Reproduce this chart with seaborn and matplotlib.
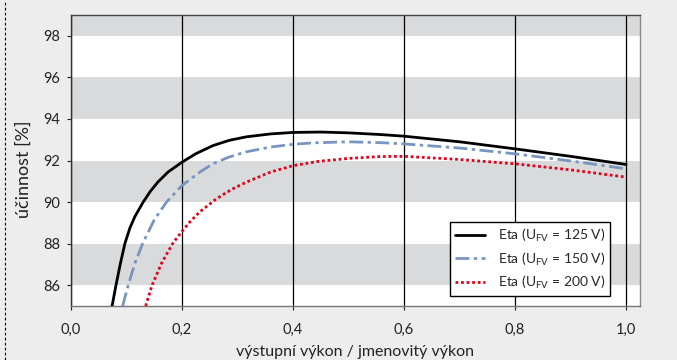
"""Efficiency curves of an inverter at three PV input voltages."""

import matplotlib

matplotlib.use("Agg")

import matplotlib.pyplot as plt
import pandas as pd
import seaborn as sns
from matplotlib.lines import Line2D

# curve for U_FV = 125 V
x_125 = [0.074, 0.081, 0.089, 0.097, 0.106, 0.115, 0.130, 0.143, 0.157, 0.175, 0.2,
         0.225, 0.256, 0.285, 0.316, 0.36, 0.4, 0.45, 0.5, 0.557, 0.6, 0.7, 0.8, 0.9, 1.0]
eta_125 = [85.0, 86.0, 87.05, 88.0, 88.75, 89.3, 90.0, 90.52, 90.98, 91.45, 91.92,
           92.33, 92.72, 92.97, 93.14, 93.28, 93.35, 93.37, 93.33, 93.25, 93.17, 92.9,
           92.56, 92.2, 91.81]

# curve for U_FV = 150 V
x_150 = [0.093, 0.103, 0.115, 0.129, 0.150, 0.172, 0.2, 0.232, 0.256, 0.285, 0.316,
         0.36, 0.4, 0.437, 0.5, 0.557, 0.6, 0.7, 0.8, 0.9, 1.0]
eta_150 = [85.0, 86.0, 87.05, 88.0, 89.15, 90.0, 90.8, 91.44, 91.85, 92.17, 92.42,
           92.65, 92.78, 92.85, 92.9, 92.86, 92.8, 92.6, 92.32, 91.98, 91.6]

# curve for U_FV = 200 V
x_200 = [0.1345, 0.146, 0.163, 0.183, 0.2, 0.215, 0.232, 0.262, 0.29, 0.316, 0.36, 0.4,
         0.446, 0.5, 0.557, 0.6, 0.7, 0.8, 0.9, 1.0]
eta_200 = [85.0, 86.0, 87.05, 88.0, 88.6, 89.07, 89.53, 90.16, 90.62, 90.96, 91.45,
           91.75, 91.96, 92.1, 92.19, 92.2, 92.05, 91.84, 91.55, 91.2]

series_labels = [
    r"Eta (U$_{\mathregular{FV}}$ = 125 V)",
    r"Eta (U$_{\mathregular{FV}}$ = 150 V)",
    r"Eta (U$_{\mathregular{FV}}$ = 200 V)",
]

x_ticks = [0.0, 0.2, 0.4, 0.6, 0.8, 1.0]
x_tick_labels = ["0,0", "0,2", "0,4", "0,6", "0,8", "1,0"]
y_ticks = [86, 88, 90, 92, 94, 96, 98]
band_starts = [86, 90, 94, 98]

sns.set_theme(style="white")
plt.rcParams["font.family"] = ["Lato", "DejaVu Sans"]
plt.rcParams["mathtext.fontset"] = "custom"
plt.rcParams["mathtext.rm"] = "Lato"

fig = plt.figure(figsize=(6.77, 3.6), dpi=100)
fig.patch.set_facecolor("#ECEDEC")
ax = fig.add_axes([0.1049, 0.15, 0.8404, 0.8083])
ax.set_facecolor("white")

for lo in band_starts:
    ax.axhspan(lo, lo + 2, color="#D9DADC", zorder=0, lw=0)
for xt in x_ticks:
    ax.axvline(xt, color="black", lw=0.9, zorder=1)

df_125 = pd.DataFrame({"x": x_125, "eta": eta_125})
df_150 = pd.DataFrame({"x": x_150, "eta": eta_150})
df_200 = pd.DataFrame({"x": x_200, "eta": eta_200})

sns.lineplot(data=df_125, x="x", y="eta", ax=ax, color="black", lw=2.0,
             label=series_labels[0], zorder=3)
sns.lineplot(data=df_150, x="x", y="eta", ax=ax, color="#7895C0", lw=2.0,
             linestyle=(0, (5, 1.6, 1.2, 1.6)), label=series_labels[1], zorder=3)
sns.lineplot(data=df_200, x="x", y="eta", ax=ax, color="#E2001A", lw=2.0,
             linestyle=(0, (1, 1)), label=series_labels[2], zorder=3)

ax.set_xlim(0, 1.025)
ax.set_ylim(85, 99)
ax.set_xticks(x_ticks)
ax.set_xticklabels(x_tick_labels)
ax.set_yticks(y_ticks)
ax.tick_params(axis="both", labelsize=10.5, colors="#222222", length=3, width=0.8,
               direction="out", left=True, bottom=True, pad=5)
ax.tick_params(axis="x", pad=9)

for name, col in [("left", "#333333"), ("bottom", "#777777"), ("top", "#444444"),
                  ("right", "#888888")]:
    ax.spines[name].set_visible(True)
    ax.spines[name].set_color(col)
    ax.spines[name].set_linewidth(1.0)

ax.set_xlabel("výstupní výkon / jmenovitý výkon", fontsize=11.5, color="#222222")
ax.set_ylabel("účinnost [%]", fontsize=13, color="#222222")
ax.xaxis.set_label_coords(0.5, -0.135)
ax.yaxis.set_label_coords(-0.069, 0.47)

leg = ax.legend(loc="lower right", bbox_to_anchor=(0.947, 0.034), fontsize=10,
                frameon=True, fancybox=False, edgecolor="black", framealpha=1,
                handlelength=2.2, handletextpad=0.9, labelspacing=0.45,
                borderpad=0.35, borderaxespad=0)
leg.get_frame().set_linewidth(1.0)

fig.add_artist(Line2D([0.0074, 0.0074], [0, 1], transform=fig.transFigure,
                      color="black", lw=0.8, linestyle=(0, (2.5, 2))))

fig.savefig("out.png", dpi=100, facecolor=fig.get_facecolor())
